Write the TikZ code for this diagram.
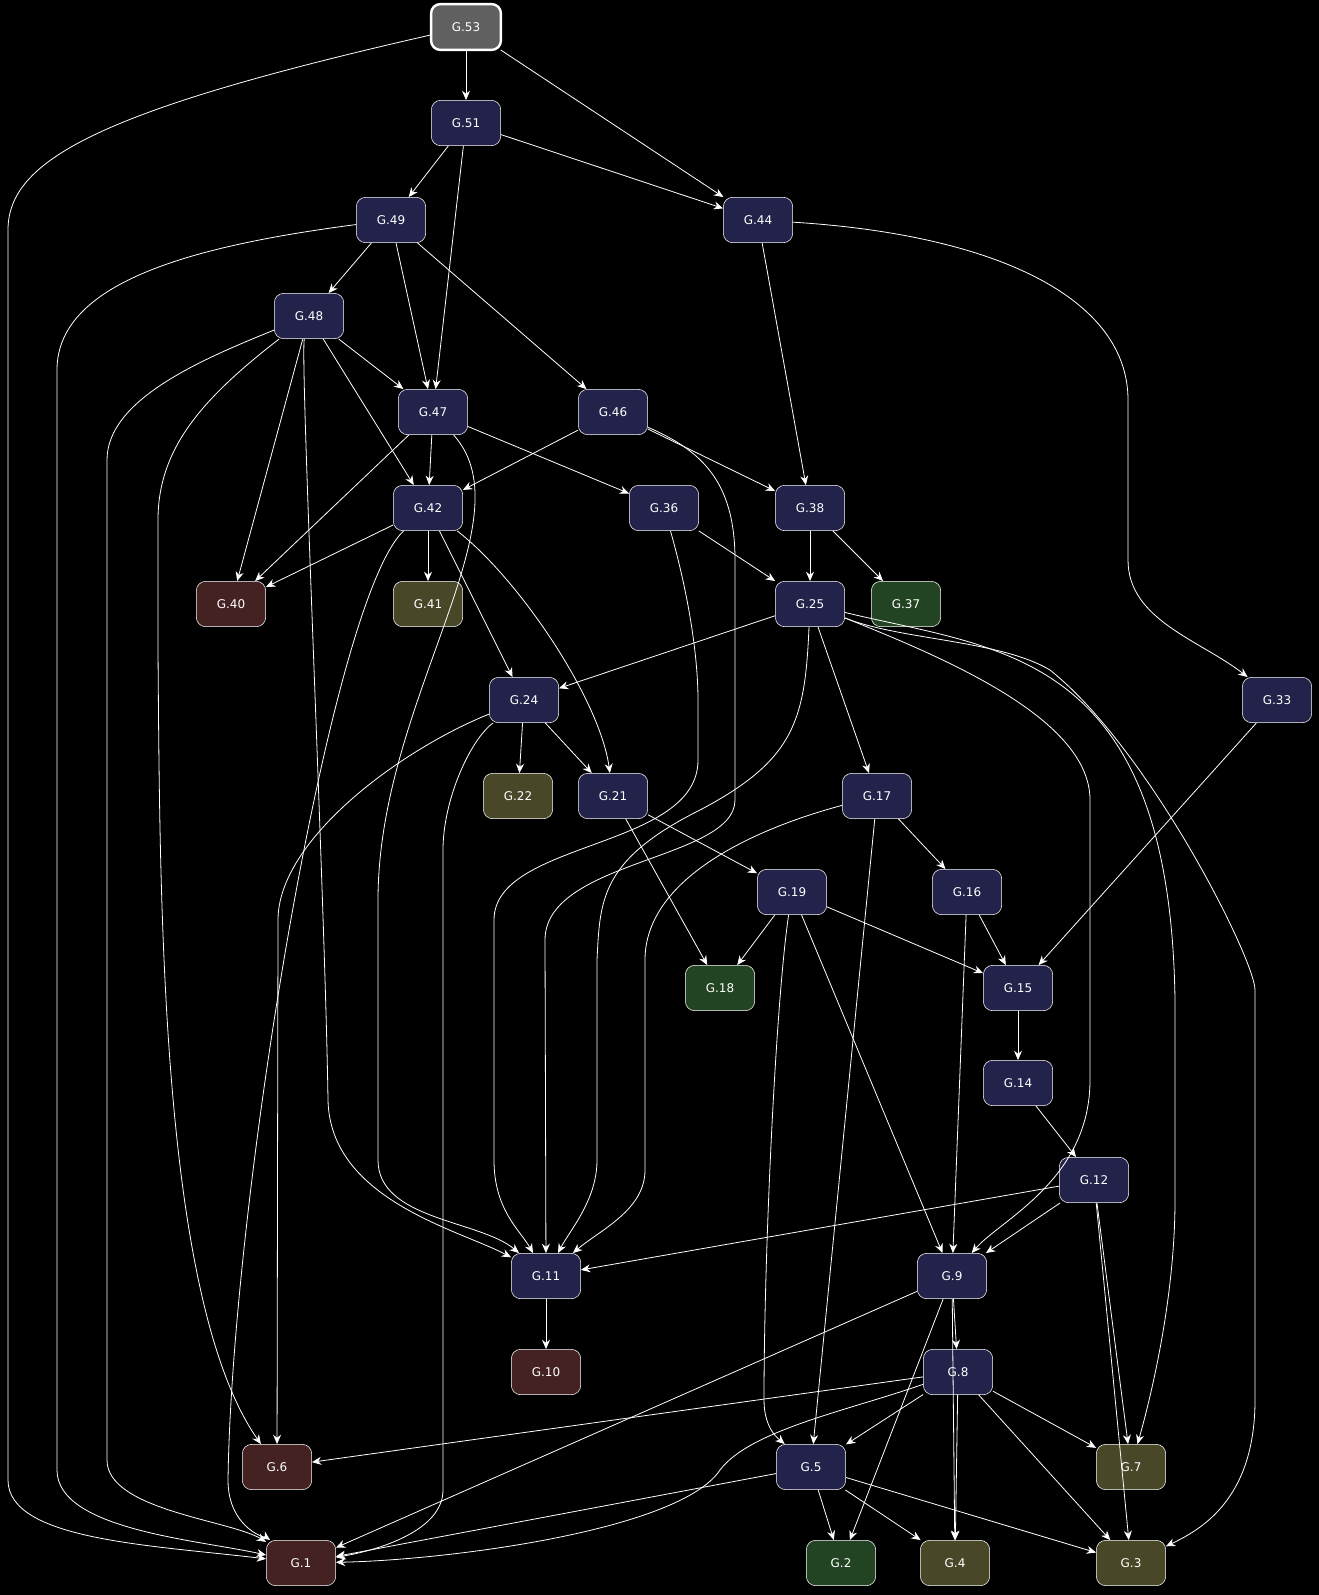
\documentclass[tikz,border=0pt]{standalone}
\usepackage{fontspec}
\setmainfont{DejaVu Sans}
\usetikzlibrary{arrows.meta}
\definecolor{nv}{HTML}{22224A}
\definecolor{rd}{HTML}{442222}
\definecolor{ol}{HTML}{484828}
\definecolor{gr}{HTML}{224422}
\definecolor{gy}{HTML}{606060}
\begin{document}
\begin{tikzpicture}[x=0.75pt,y=-0.75pt,
 nd/.style={draw=white,rounded corners=7pt,minimum width=52pt,minimum height=34pt,text=white,font=\small,inner sep=1pt},
 e/.style={draw=white,line width=0.6pt,-{Stealth[length=7pt,width=6pt]}}]
\fill[black] (0,0) rectangle (1319,1595);
\useasboundingbox (0,0) rectangle (1319,1595);
\foreach \n/\x/\y/\c in {53/466/27/gy,51/466/123/nv,49/391/220/nv,44/758/220/nv,48/309/316/nv,47/433/412/nv,46/613/412/nv,42/428/508/nv,36/664/508/nv,38/810/508/nv,40/231/604/rd,41/428/604/ol,25/810/604/nv,37/906/604/gr,24/524/700/nv,33/1277/700/nv,22/518/796/ol,21/613/796/nv,17/877/796/nv,19/792/892/nv,16/967/892/nv,18/720/988/gr,15/1018/988/nv,14/1018/1083/nv,12/1094/1180/nv,11/546/1276/nv,9/952/1276/nv,10/546/1372/rd,8/958/1372/nv,6/277/1467/rd,5/811/1467/nv,7/1131/1467/ol,1/301/1563/rd,2/841/1563/gr,4/955/1563/ol,3/1131/1563/ol}
 {\node[nd,fill=\c] (G\n) at (\x,\y) {G.\n};}
\draw[white,line width=1.8pt,rounded corners=7pt] (G53.south west) rectangle (G53.north east);
% straight edges
\foreach \a/\b in {53/51,53/44,51/49,51/47,51/44,49/48,49/47,49/46,44/38,48/47,48/42,48/40,47/42,47/40,47/36,46/42,46/38,42/40,42/41,42/24,36/25,38/25,38/37,25/24,25/17,33/15,24/22,24/21,21/19,21/18,17/16,17/5,19/18,19/15,19/9,16/15,16/9,15/14,14/12,12/11,12/9,12/7,12/3,11/10,9/8,9/1,9/2,9/4,8/6,8/5,8/7,8/3,8/4,5/1,5/2,5/4,5/3}
 {\draw[e] (G\a) -- (G\b);}
% curved edges
\draw[e] (G53) .. controls (100,110) and (8,160) .. (8,230) -- (8,1480) .. controls (8,1540) and (150,1545) .. (G1);
\draw[e] (G49) .. controls (200,245) and (57,280) .. (57,370) -- (57,1470) .. controls (57,1530) and (200,1540) .. (G1);
\draw[e] (G44) .. controls (1000,235) and (1128,300) .. (1128,400) -- (1128,560) .. controls (1128,620) and (1200,640) .. (G33);
\draw[e] (G48) .. controls (300,360) and (325,900) .. (328,1100) .. controls (330,1200) and (460,1230) .. (G11);
\draw[e] (G48) .. controls (200,360) and (107,400) .. (107,460) -- (107,1460) .. controls (107,1510) and (230,1520) .. (G1);
\draw[e] (G48) .. controls (200,400) and (158,450) .. (158,520) -- (158,650) .. controls (160,900) and (160,1300) .. (G6);
\draw[e] (G47) .. controls (530,520) and (378,700) .. (378,900) -- (378,1160) .. controls (378,1220) and (480,1220) .. (G11);
\draw[e] (G46) .. controls (700,450) and (735,480) .. (735,560) -- (735,800) .. controls (735,860) and (545,860) .. (545,940) -- (G11);
\draw[e] (G42) .. controls (330,600) and (232,1200) .. (228,1480) .. controls (228,1530) and (270,1540) .. (G1);
\draw[e] (G42) .. controls (520,580) and (600,700) .. (G21);
\draw[e] (G36) .. controls (690,600) and (698,660) .. (698,700) -- (698,760) .. controls (698,850) and (494,840) .. (494,920) -- (494,1160) .. controls (494,1210) and (520,1230) .. (G11);
\draw[e] (G25) .. controls (805,720) and (795,760) .. (700,810) .. controls (600,860) and (600,900) .. (597,960) -- (597,1160) .. controls (597,1200) and (570,1230) .. (G11);
\draw[e] (G25) .. controls (950,660) and (1090,720) .. (1090,800) -- (1090,1080) .. controls (1090,1180) and (1000,1220) .. (G9);
\draw[e] (G25) .. controls (1000,650) and (1170,650) .. (1175,1000) -- (1175,1200) .. controls (1175,1300) and (1150,1400) .. (G7);
\draw[e] (G25) .. controls (900,640) and (1000,640) .. (1050,670) .. controls (1150,750) and (1255,960) .. (1255,990) -- (1255,1400) .. controls (1255,1500) and (1200,1530) .. (G3);
\draw[e] (G24) .. controls (400,750) and (278,840) .. (278,920) -- (G6);
\draw[e] (G24) .. controls (470,740) and (443,800) .. (443,850) -- (443,1490) .. controls (443,1530) and (380,1550) .. (G1);
\draw[e] (G17) .. controls (750,830) and (645,880) .. (645,960) -- (645,1170) .. controls (645,1210) and (600,1230) .. (G11);
\draw[e] (G19) .. controls (776,1000) and (764,1250) .. (764,1400) .. controls (764,1430) and (780,1440) .. (G5);
\draw[e] (G8) .. controls (850,1410) and (750,1430) .. (720,1470) .. controls (680,1530) and (450,1560) .. (G1);
\end{tikzpicture}
\end{document}
